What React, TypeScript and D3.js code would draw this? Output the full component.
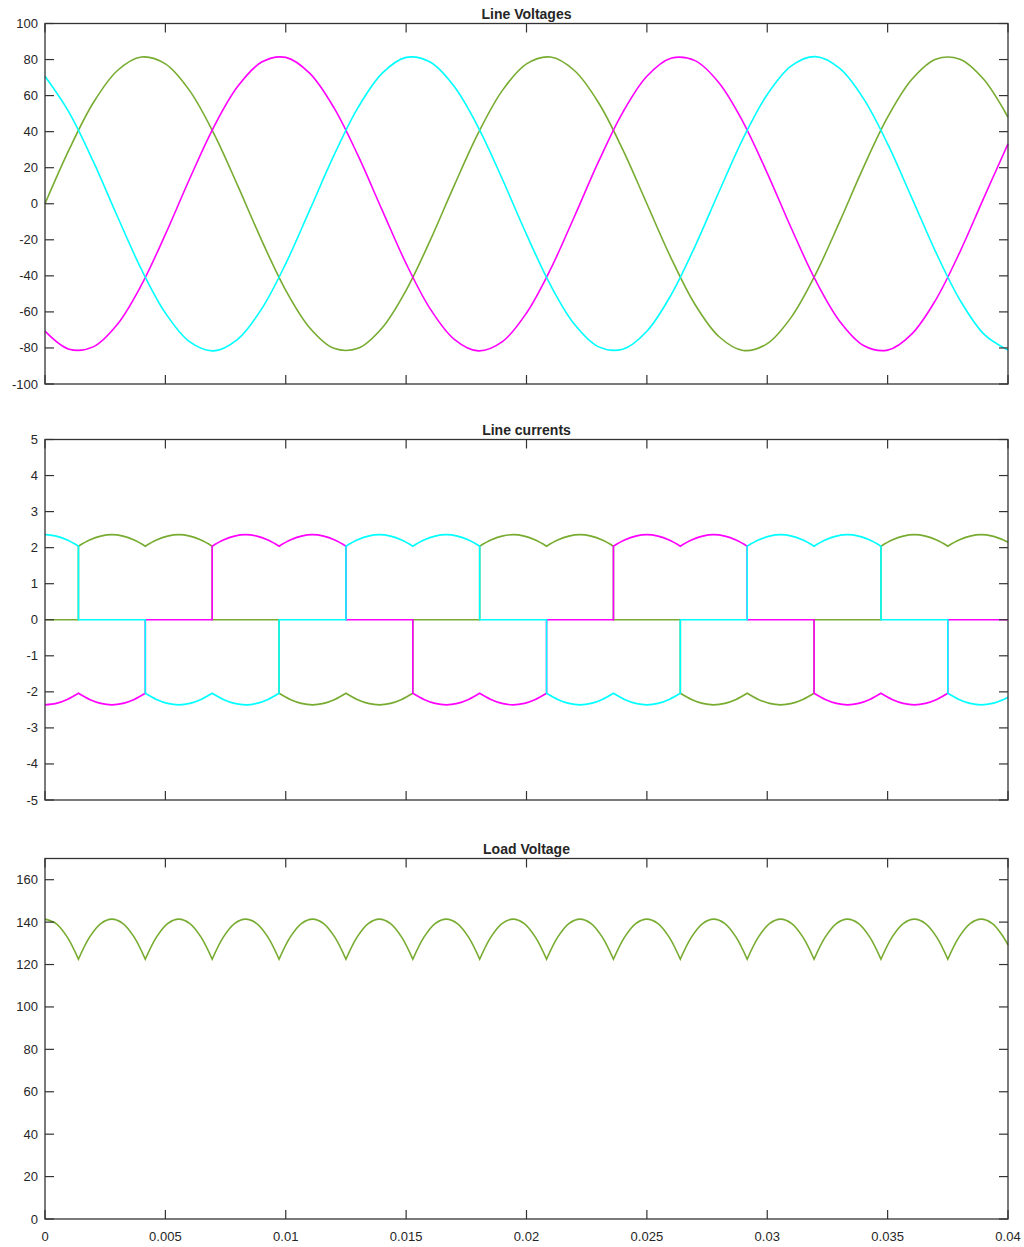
import * as d3 from "d3";

const width = 1024;
const height = 1247;
const Margin = { left: 45, right: 16 };
const panelHeight = 360.5;
const panelTops = [23.5, 439.5, 858.5];
const tickLen = 9;
const font = "'Liberation Sans', Arial, Helvetica, sans-serif";
const axisColor = "#333333";
const labelSize = 13;
const titleSize = 14;

const colors = { a: "#77AC30", b: "#FF00FF", c: "#00FFFF" };

// time axis
const xTicks = [0, 0.005, 0.01, 0.015, 0.02, 0.025, 0.03, 0.035, 0.04];
const xTickLabels = ["0", "0.005", "0.01", "0.015", "0.02", "0.025", "0.03", "0.035", "0.04"];

// line voltages, sampled every 1 ms
const voltageStep = 0.001;
const voltageA = [
  0, 30.0, 55.9, 73.8, 81.4, 77.6, 62.9, 39.3, 10.2, -20.3,
  -48.0, -68.9, -80.2, -80.2, -68.9, -48.0, -20.3, 10.2, 39.3, 62.9,
  77.6, 81.4, 73.8, 55.9, 30.0, 0, -30.0, -55.9, -73.8, -81.4,
  -77.6, -62.9, -39.3, -10.2, 20.3, 48.0, 68.9, 80.2, 80.2, 68.9,
  48.0,
];
const voltageB = [
  -70.7, -80.7, -79.4, -67.0, -45.2, -17.0, 13.6, 42.3, 65.0, 78.6,
  81.2, 72.3, 53.3, 26.8, -3.4, -33.2, -58.3, -75.2, -81.6, -76.5,
  -60.6, -36.3, -6.8, 23.6, 50.7, 70.7, 80.7, 79.4, 67.0, 45.2,
  17.0, -13.6, -42.3, -65.0, -78.6, -81.2, -72.3, -53.3, -26.8, 3.4,
  33.2,
];
const voltageC = [
  70.7, 50.7, 23.6, -6.8, -36.3, -60.6, -76.5, -81.6, -75.2, -58.3,
  -33.2, -3.4, 26.8, 53.3, 72.3, 81.2, 78.6, 65.0, 42.3, 13.6,
  -17.0, -45.2, -67.0, -79.4, -80.7, -70.7, -50.7, -23.6, 6.8, 36.3,
  60.6, 76.5, 81.6, 75.2, 58.3, 33.2, 3.4, -26.8, -53.3, -72.3,
  -81.2,
];

// load voltage, sampled every 1/2160 s, last sample at 0.04 s
const sampleRate = 2160;
const loadVoltage = [
  141.4, 139.3, 132.9, 122.5, 132.9, 139.3,
  141.4, 139.3, 132.9, 122.5, 132.9, 139.3,
  141.4, 139.3, 132.9, 122.5, 132.9, 139.3,
  141.4, 139.3, 132.9, 122.5, 132.9, 139.3,
  141.4, 139.3, 132.9, 122.5, 132.9, 139.3,
  141.4, 139.3, 132.9, 122.5, 132.9, 139.3,
  141.4, 139.3, 132.9, 122.5, 132.9, 139.3,
  141.4, 139.3, 132.9, 122.5, 132.9, 139.3,
  141.4, 139.3, 132.9, 122.5, 132.9, 139.3,
  141.4, 139.3, 132.9, 122.5, 132.9, 139.3,
  141.4, 139.3, 132.9, 122.5, 132.9, 139.3,
  141.4, 139.3, 132.9, 122.5, 132.9, 139.3,
  141.4, 139.3, 132.9, 122.5, 132.9, 139.3,
  141.4, 139.3, 132.9, 122.5, 132.9, 139.3,
  141.4, 139.3, 132.9, 129.2,
];

// line current magnitude at the same samples
const currentMagnitude = [
  2.36, 2.32, 2.21, 2.04, 2.21, 2.32,
  2.36, 2.32, 2.21, 2.04, 2.21, 2.32,
  2.36, 2.32, 2.21, 2.04, 2.21, 2.32,
  2.36, 2.32, 2.21, 2.04, 2.21, 2.32,
  2.36, 2.32, 2.21, 2.04, 2.21, 2.32,
  2.36, 2.32, 2.21, 2.04, 2.21, 2.32,
  2.36, 2.32, 2.21, 2.04, 2.21, 2.32,
  2.36, 2.32, 2.21, 2.04, 2.21, 2.32,
  2.36, 2.32, 2.21, 2.04, 2.21, 2.32,
  2.36, 2.32, 2.21, 2.04, 2.21, 2.32,
  2.36, 2.32, 2.21, 2.04, 2.21, 2.32,
  2.36, 2.32, 2.21, 2.04, 2.21, 2.32,
  2.36, 2.32, 2.21, 2.04, 2.21, 2.32,
  2.36, 2.32, 2.21, 2.04, 2.21, 2.32,
  2.36, 2.32, 2.21, 2.15,
];

// conduction state of each phase per 60 degree interval (+1, 0, -1)
const stateA = [0, 1, 1, 0, -1, -1, 0, 1, 1, 0, -1, -1, 0, 1, 1];
const stateB = [-1, -1, 0, 1, 1, 0, -1, -1, 0, 1, 1, 0, -1, -1, 0];
const stateC = [1, 0, -1, -1, 0, 1, 1, 0, -1, -1, 0, 1, 1, 0, -1];

const voltageTicks = [-100, -80, -60, -40, -20, 0, 20, 40, 60, 80, 100];
const currentTicks = [-5, -4, -3, -2, -1, 0, 1, 2, 3, 4, 5];
const loadTicks = [0, 20, 40, 60, 80, 100, 120, 140, 160];

const sampleTimes = loadVoltage.map((_, i) => (i < loadVoltage.length - 1 ? i / sampleRate : 0.04));

const xScale = d3.scaleLinear().domain([0, 0.04]).range([Margin.left, width - Margin.right]);

type Pt = [number, number];

// position of a sample in 60 degree intervals; integer = commutation instant
function sectorPos(t: number) {
  return (t * sampleRate + 3) / 6;
}
function isEdge(t: number) {
  const s = sectorPos(t);
  return Math.abs(s - Math.round(s)) < 1e-6 && Math.round(s) > 0;
}

// arches between commutation instants, each piece drawn smooth
function loadPieces(): Pt[][] {
  const pieces: Pt[][] = [[]];
  sampleTimes.forEach((t, i) => {
    const p: Pt = [t, loadVoltage[i]];
    pieces[pieces.length - 1].push(p);
    if (isEdge(t)) pieces.push([p]);
  });
  return pieces;
}

function currentPieces(states: number[]): Pt[][] {
  const pieces: Pt[][] = [[]];
  sampleTimes.forEach((t, i) => {
    const m = currentMagnitude[i];
    const s = sectorPos(t);
    if (isEdge(t)) {
      const r = Math.round(s);
      pieces[pieces.length - 1].push([t, states[r - 1] * m]);
      pieces.push([[t, states[r] * m]]);
    } else {
      pieces[pieces.length - 1].push([t, states[Math.floor(s)] * m]);
    }
  });
  return pieces;
}

function Panel({ title, top, domain, ticks, showX, children }: any) {
  const bottom = top + panelHeight;
  const left = Margin.left;
  const right = width - Margin.right;
  const yScale = d3.scaleLinear().domain(domain).range([bottom, top]);
  return (
    <g>
      {children}
      {xTicks.map((v, i) => (
        <g key={"x" + i}>
          <line x1={xScale(v)} x2={xScale(v)} y1={bottom} y2={bottom - tickLen} stroke={axisColor} strokeWidth={1.2} />
          <line x1={xScale(v)} x2={xScale(v)} y1={top} y2={top + tickLen} stroke={axisColor} strokeWidth={1.2} />
          {showX && (
            <text x={xScale(v)} y={bottom + 17.5} textAnchor="middle" dominantBaseline="central" fontSize={labelSize} fill="#262626" fontFamily={font}>
              {xTickLabels[i]}
            </text>
          )}
        </g>
      ))}
      {ticks.map((v: number) => (
        <g key={"y" + v}>
          <line x1={left} x2={left + tickLen} y1={yScale(v)} y2={yScale(v)} stroke={axisColor} strokeWidth={1.2} />
          <line x1={right} x2={right - tickLen} y1={yScale(v)} y2={yScale(v)} stroke={axisColor} strokeWidth={1.2} />
          <text x={left - 7} y={yScale(v)} textAnchor="end" dominantBaseline="central" fontSize={labelSize} fill="#262626" fontFamily={font}>
            {v}
          </text>
        </g>
      ))}
      <rect x={left} y={top} width={right - left} height={panelHeight} fill="none" stroke={axisColor} strokeWidth={1.3} />
      <text x={(left + right) / 2} y={top - 10} textAnchor="middle" dominantBaseline="central" fontSize={titleSize} fontWeight="bold" fill="#262626" fontFamily={font}>
        {title}
      </text>
    </g>
  );
}

export default function App() {
  const bottoms = panelTops.map((t) => t + panelHeight);
  const yVolt = d3.scaleLinear().domain([-100, 100]).range([bottoms[0], panelTops[0]]);
  const yCurr = d3.scaleLinear().domain([-5, 5]).range([bottoms[1], panelTops[1]]);
  const yLoad = d3.scaleLinear().domain([0, 170]).range([bottoms[2], panelTops[2]]);

  const voltLine = d3
    .line<number>()
    .x((_, i) => xScale(i * voltageStep))
    .y((d) => yVolt(d))
    .curve(d3.curveCatmullRom);

  // join smooth pieces into one continuous path
  const joined = (pieces: Pt[][], y: (v: number) => number) => {
    const gen = d3
      .line<Pt>()
      .x((d) => xScale(d[0]))
      .y((d) => y(d[1]))
      .curve(d3.curveCatmullRom);
    return pieces
      .filter((p) => p.length > 0)
      .map((p, k) => {
        const d = gen(p) || "";
        return k === 0 ? d : "L" + d.slice(1);
      })
      .join("");
  };

  const phases = [
    { v: voltageA, s: stateA, c: colors.a },
    { v: voltageB, s: stateB, c: colors.b },
    { v: voltageC, s: stateC, c: colors.c },
  ];

  return (
    <svg width={width} height={height} style={{ position: "absolute", left: 0, top: 0, background: "#fff" }}>
      <Panel title="Line Voltages" top={panelTops[0]} domain={[-100, 100]} ticks={voltageTicks} showX={false}>
        {phases.map((p, i) => (
          <path key={i} d={voltLine(p.v) || ""} fill="none" stroke={p.c} strokeWidth={1.6} />
        ))}
      </Panel>
      <Panel title="Line currents" top={panelTops[1]} domain={[-5, 5]} ticks={currentTicks} showX={false}>
        {phases.map((p, i) => (
          <path key={i} d={joined(currentPieces(p.s), yCurr)} fill="none" stroke={p.c} strokeWidth={1.6} />
        ))}
      </Panel>
      <Panel title="Load Voltage" top={panelTops[2]} domain={[0, 170]} ticks={loadTicks} showX={true}>
        <path d={joined(loadPieces(), yLoad)} fill="none" stroke={colors.a} strokeWidth={1.6} />
      </Panel>
    </svg>
  );
}
